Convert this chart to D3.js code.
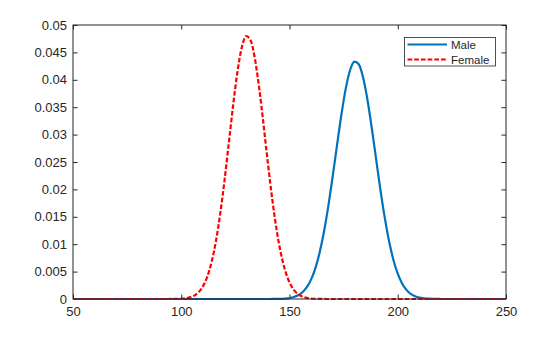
<!DOCTYPE html>
<html>
<head>
<meta charset="utf-8">
<title>Weight pdf by gender</title>
<style>
    body { margin: 0; background: #fff; }
    svg text { font-family: "Liberation Sans", Arial, sans-serif; fill: #262626; }
    .frame { fill: none; stroke: #262626; stroke-width: 1; }
    .tick line { stroke: #262626; }
</style>
</head>
<body>
<div id="chart"></div>
<script src="https://cdn.jsdelivr.net/npm/d3@7"></script>
<script>
    // values
    const xTicks = [50, 100, 150, 200, 250];
    const yTicks = [0, 0.005, 0.01, 0.015, 0.02, 0.025, 0.03, 0.035, 0.04, 0.045, 0.05];
    const seriesNames = ["Male", "Female"];

    const maleX = [50, 138, 140, 142, 144, 146, 148, 150, 152, 154, 156, 158, 160, 162, 164, 166, 168,
        170, 172, 174, 176, 178, 180, 182, 184, 186, 188, 190, 192, 194, 196, 198, 200, 202, 204,
        206, 208, 210, 212, 214, 216, 218, 220, 222, 250];
    const maleY = [0, 0.000001, 0.0000026, 0.0000067, 0.0000162, 0.0000375, 0.000083, 0.000175, 0.000352,
        0.000675, 0.001234, 0.00215, 0.00359, 0.00569, 0.00862, 0.01245, 0.01714, 0.02252, 0.02822,
        0.03372, 0.03844, 0.04179, 0.04333, 0.04285, 0.04041, 0.03636, 0.03120, 0.02553, 0.01993,
        0.01484, 0.01053, 0.00713, 0.00461, 0.00284, 0.00167, 0.000935, 0.000500, 0.000255, 0.000124,
        0.0000575, 0.0000254, 0.0000107, 0.0000043, 0.0000016, 0];

    const femaleX = [50, 94, 96, 98, 100, 102, 104, 106, 108, 110, 112, 114, 116, 118, 120, 122, 124,
        126, 128, 130, 132, 134, 136, 138, 140, 142, 144, 146, 148, 150, 152, 154, 156, 158, 160,
        162, 164, 166, 168, 250];
    const femaleY = [0, 0.0000032, 0.0000087, 0.000023, 0.0000572, 0.000135, 0.000298, 0.000625, 0.001234,
        0.00230, 0.00405, 0.00672, 0.01052, 0.01556, 0.02170, 0.02856, 0.03547, 0.04157, 0.04597,
        0.04797, 0.04724, 0.04390, 0.03849, 0.03185, 0.02487, 0.01832, 0.01274, 0.00836, 0.00517,
        0.00302, 0.00167, 0.000867, 0.000426, 0.000197, 0.0000862, 0.0000356, 0.0000138, 0.0000051,
        0.0000018, 0];

    const width = 560, height = 337;
    const margin = {top: 25, right: 54, bottom: 38, left: 73};

    const svg = d3.select("#chart").append("svg")
        .attr("width", width)
        .attr("height", height);

    const x = d3.scaleLinear().domain([50, 250]).range([margin.left, width - margin.right]);
    const y = d3.scaleLinear().domain([0, 0.05]).range([height - margin.bottom, margin.top]);

    const fmt = d => d === 0 ? "0" : String(+d.toFixed(3));
    const tickLen = 4.5;

    // bottom + top axes
    const gx = svg.append("g")
        .attr("transform", `translate(0,${y(0)})`)
        .call(d3.axisBottom(x).tickValues(xTicks).tickSize(-tickLen).tickPadding(8).tickFormat(d3.format("d")));
    const gxTop = svg.append("g")
        .attr("transform", `translate(0,${y(0.05)})`)
        .call(d3.axisTop(x).tickValues(xTicks).tickSize(-tickLen).tickFormat(""));

    // left + right axes
    const gy = svg.append("g")
        .attr("transform", `translate(${x(50)},0)`)
        .call(d3.axisLeft(y).tickValues(yTicks).tickSize(-tickLen).tickPadding(6).tickFormat(fmt));
    const gyRight = svg.append("g")
        .attr("transform", `translate(${x(250)},0)`)
        .call(d3.axisRight(y).tickValues(yTicks).tickSize(-tickLen).tickFormat(""));

    [gx, gxTop, gy, gyRight].forEach(g => {
        g.select(".domain").remove();
        g.selectAll("text").attr("font-size", 13).style("font-family", "'Liberation Sans', Arial, sans-serif");
    });
    gx.selectAll("text").attr("dy", "0.71em");

    const line = d3.line()
        .x(d => x(d[0]))
        .y(d => y(d[1]))
        .curve(d3.curveMonotoneX);

    const plot = svg.append("g");

    plot.append("path")
        .datum(maleX.map((v, i) => [v, maleY[i]]))
        .attr("fill", "none")
        .attr("stroke", "#0072BD")
        .attr("stroke-width", 2.2)
        .attr("d", line);

    plot.append("path")
        .datum(femaleX.map((v, i) => [v, femaleY[i]]))
        .attr("fill", "none")
        .attr("stroke", "#FF0000")
        .attr("stroke-width", 2.2)
        .attr("stroke-dasharray", "4.7,2")
        .attr("d", line);

    // axes box
    svg.append("rect")
        .attr("class", "frame")
        .attr("x", x(50)).attr("y", y(0.05))
        .attr("width", x(250) - x(50))
        .attr("height", y(0) - y(0.05));

    // legend
    const legend = svg.append("g").attr("transform", "translate(404.5,37.5)");
    legend.append("rect")
        .attr("width", 91).attr("height", 28.5)
        .attr("fill", "#fff")
        .attr("stroke", "#262626")
        .attr("stroke-width", 0.8);

    const legendStyles = [
        {color: "#0072BD", dash: null},
        {color: "#FF0000", dash: "4.7,2"}
    ];
    seriesNames.forEach((name, i) => {
        const yy = 7 + i * 15;
        legend.append("line")
            .attr("x1", 3).attr("x2", 42.5)
            .attr("y1", yy).attr("y2", yy)
            .attr("stroke", legendStyles[i].color)
            .attr("stroke-width", 2.2)
            .attr("stroke-dasharray", legendStyles[i].dash);
        legend.append("text")
            .attr("x", 46.5).attr("y", yy + 4.3)
            .attr("font-size", 11.5)
            .text(name);
    });
</script>
</body>
</html>
